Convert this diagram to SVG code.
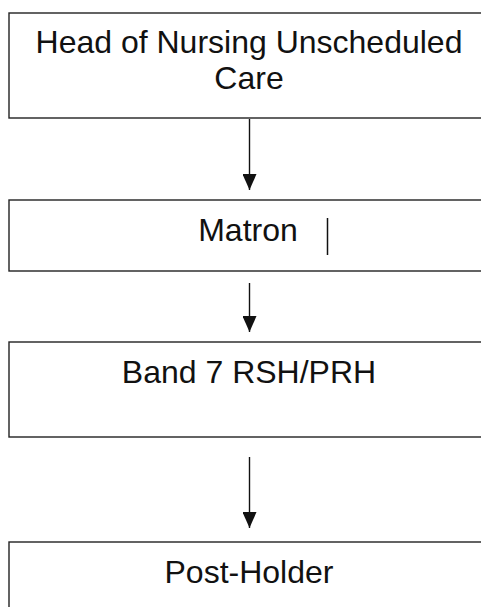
<svg xmlns="http://www.w3.org/2000/svg" width="481" height="607" viewBox="0 0 481 607">
<style>
.box{fill:#fff;stroke:#222;stroke-width:1.4}
.lbl{font-family:"Liberation Sans",Arial,sans-serif;font-size:32px;fill:#111;text-anchor:middle}
.con{stroke:#111;stroke-width:1.4;fill:none}
</style>
<defs>
<marker id="ah" markerUnits="userSpaceOnUse" markerWidth="14" markerHeight="16" refX="7" refY="16" orient="auto" viewBox="0 0 14 16">
<path d="M0,0 L14,0 L7,16 Z" fill="#111" transform="rotate(-90 7 8) translate(-1 1)"/>
</marker>
<marker id="arr" markerUnits="userSpaceOnUse" markerWidth="16" markerHeight="14" refX="16" refY="7" orient="auto" viewBox="0 0 16 14">
<path d="M0,0 L16,7 L0,14 Z" fill="#111"/>
</marker>
</defs>
<rect width="481" height="607" fill="#fff"/>
<g id="connectors">
<line class="con" x1="249.5" y1="119" x2="249.5" y2="190" marker-end="url(#arr)"/>
<line class="con" x1="249.5" y1="283" x2="249.5" y2="332" marker-end="url(#arr)"/>
<line class="con" x1="249.5" y1="457" x2="249.5" y2="528" marker-end="url(#arr)"/>
</g>
<g id="node-head">
<rect class="box" x="9" y="13" width="480" height="105"/>
<text class="lbl" x="249" y="53">Head of Nursing Unscheduled</text>
<text class="lbl" x="249" y="89">Care</text>
</g>
<g id="node-matron">
<rect class="box" x="9" y="200" width="480" height="71"/>
<text class="lbl" x="248" y="241">Matron</text>
<line x1="327.5" y1="218" x2="327.5" y2="255" stroke="#111" stroke-width="1.5"/>
</g>
<g id="node-band7">
<rect class="box" x="9" y="342" width="480" height="95"/>
<text class="lbl" x="249" y="383">Band 7 RSH/PRH</text>
</g>
<g id="node-postholder">
<rect class="box" x="9" y="542" width="480" height="80"/>
<text class="lbl" x="249" y="583">Post-Holder</text>
</g>
</svg>
